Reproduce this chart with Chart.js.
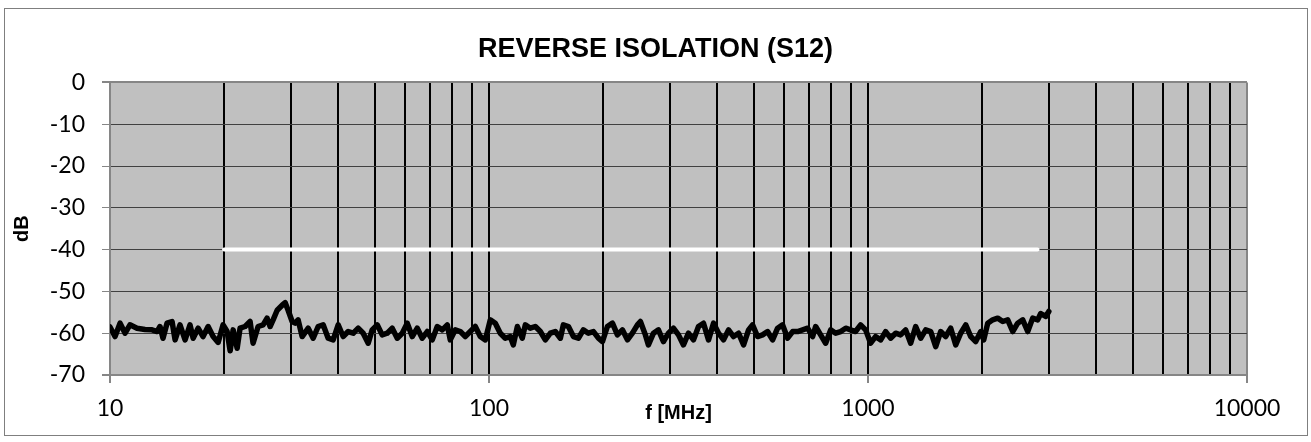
<!DOCTYPE html>
<html>
<head>
<meta charset="utf-8">
<script src="https://cdn.jsdelivr.net/npm/chart.js@4.4.0/dist/chart.umd.min.js"></script>
<style>
  html, body { margin: 0; padding: 0; background: #fff; }
  canvas { display: block; }
</style>
</head>
<body>
<canvas id="s12Chart" width="1311" height="442"></canvas>
<script>
// measured sweep, frequency in MHz
const freqMHz = [
  10, 10.31, 10.63, 10.96, 11.29, 11.78, 12.37, 12.91, 13.31, 13.55,
  13.80, 14.14, 14.58, 14.85, 15.30, 15.78, 16.26, 16.57, 17.08, 17.60,
  18.15, 18.71, 19.29, 19.88, 20.37, 20.75, 21.13, 21.65, 22.04, 22.72,
  23.42, 23.85, 24.59, 25.35, 25.97, 26.45, 26.94, 27.61, 28.46, 28.99,
  29.51, 30.24, 30.80, 31.36, 32.14, 33.34, 34.36, 35.42, 36.51, 37.64,
  38.80, 40.00, 41.23, 42.50, 43.82, 45.17, 46.56, 48.00, 49.18, 50.70,
  52.26, 53.88, 55.54, 57.27, 59.03, 60.85, 62.73, 64.67, 66.66, 68.72,
  70.84, 73.03, 75.28, 77.61, 79.04, 81.47, 83.99, 86.58, 89.25, 92.01,
  94.84, 97.77, 100.8, 103.9, 107.1, 110.4, 113.8, 115.9, 118.8, 122.4,
  124.7, 128.5, 132.5, 136.6, 140.8, 145.2, 149.6, 154.3, 157.1, 162.0,
  167.0, 172.1, 177.4, 182.9, 188.6, 194.4, 199.2, 205.3, 211.7, 218.2,
  224.9, 231.9, 239.0, 246.4, 250.9, 258.6, 263.4, 271.6, 279.9, 288.6,
  297.5, 306.7, 316.2, 325.9, 336.0, 346.4, 357.1, 368.1, 379.5, 391.2,
  403.3, 415.8, 428.6, 441.8, 455.5, 469.6, 484.1, 495.9, 511.2, 527.0,
  543.3, 560.1, 577.4, 595.2, 613.6, 632.6, 652.1, 672.3, 693.0, 714.4,
  727.5, 750.0, 773.2, 797.1, 821.7, 847.1, 873.3, 899.5, 927.2, 956.1,
  985.6, 1016, 1047, 1080, 1113, 1147, 1183, 1219, 1257, 1296,
  1336, 1377, 1420, 1464, 1509, 1555, 1603, 1653, 1704, 1756,
  1811, 1867, 1924, 1984, 2020, 2070, 2133, 2199, 2267, 2337,
  2409, 2483, 2560, 2639, 2720, 2804, 2856, 2944, 3000
];
const s12dB = [
  -58.5, -60.8, -57.6, -60, -58, -58.8, -59.1, -59.2, -59.6, -58.4,
  -61.2, -57.6, -57.2, -61.6, -58, -61.6, -58, -61.2, -58.8, -60.8,
  -58.4, -60.8, -62.2, -58, -59.6, -64.2, -59.2, -63.6, -58.8, -58.4,
  -57.2, -62.4, -58.4, -58, -56.4, -58.4, -56.8, -54.5, -53.3, -52.7,
  -54.5, -57.2, -57.6, -56.8, -60.8, -58.8, -61.2, -58.4, -58, -61.2,
  -61.6, -58, -60.8, -59.6, -60, -58.8, -60, -62.4, -59.2, -58,
  -60.4, -60, -58.8, -61.2, -60, -57.6, -60.8, -58.8, -61.2, -59.6,
  -61.6, -58.4, -59.2, -58, -61.6, -59.2, -59.6, -60.8, -59.6, -58.4,
  -60.8, -61.6, -56.8, -57.6, -60, -61.2, -60.8, -62.8, -58.4, -61.2,
  -58, -58.8, -58.4, -59.6, -61.6, -60, -59.6, -61.2, -58, -58.4,
  -60.8, -61.2, -59.2, -60, -59.6, -61.2, -62, -58.4, -57.6, -60.4,
  -59.2, -61.6, -60, -58, -57.2, -60.4, -62.8, -60, -59.2, -62,
  -60, -58.8, -60.4, -62.8, -60, -61.6, -58.4, -57.6, -61.6, -57.6,
  -60, -61.6, -59.2, -60.8, -60, -62.8, -59.2, -58, -60.8, -60.4,
  -59.6, -61.6, -58.8, -58, -61.2, -59.6, -59.6, -59.2, -58.8, -60.8,
  -58.4, -60.4, -62.4, -59.2, -60, -59.6, -58.8, -59.2, -59.6, -58,
  -59.2, -62.4, -60.8, -61.6, -59.6, -61.2, -60, -60.4, -59.2, -62.4,
  -58.4, -61.2, -59.2, -59.6, -63.2, -59.6, -60.8, -58.8, -62.8, -60,
  -58, -60.8, -62, -59.6, -61.6, -57.6, -56.8, -56.4, -57.2, -56.8,
  -59.6, -57.6, -56.8, -59.6, -56.4, -56.8, -55.3, -56, -54.8
];
// white limit line
const limitMHz = [20, 2800];
const limitdB = [-40, -40];

const yTicks = [0, -10, -20, -30, -40, -50, -60, -70];
const xTickLabels = [10, 100, 1000, 10000];
const gridSteps = [1, 2, 3, 4, 5, 6, 7, 8, 9];

const edgeGray = "#868686";

const frame = {
  id: "frame",
  afterLayout(chart) {
    // centre the title on the whole canvas, not on the padded box
    if (chart.titleBlock) {
      chart.titleBlock.left = 0;
      chart.titleBlock.right = chart.width;
    }
  },
  beforeDraw(chart) {
    const ctx = chart.ctx;
    const a = chart.chartArea;
    ctx.save();
    ctx.fillStyle = "#ffffff";
    ctx.fillRect(0, 0, chart.width, chart.height);
    ctx.strokeStyle = "#7f7f7f";
    ctx.lineWidth = 1;
    ctx.strokeRect(4.5, 8.5, 1303, 427);
    ctx.fillStyle = "#c0c0c0";
    ctx.fillRect(a.left, a.top, a.right - a.left, a.bottom - a.top);
    ctx.restore();
  }
};

function isDecade(v) {
  return xTickLabels.indexOf(Math.round(v)) >= 0;
}

document.addEventListener("DOMContentLoaded", function() {
  const ctx = document.getElementById("s12Chart").getContext("2d");
  new Chart(ctx, {
    type: "scatter",
    data: {
      datasets: [{
        data: limitMHz.map((f, i) => ({ x: f, y: limitdB[i] })),
        showLine: true,
        borderColor: "#ffffff",
        borderWidth: 4,
        pointRadius: 0,
        borderCapStyle: "round"
      }, {
        data: freqMHz.map((f, i) => ({ x: f, y: s12dB[i] })),
        showLine: true,
        borderColor: "#000000",
        borderWidth: 5.5,
        pointRadius: 0,
        tension: 0,
        borderJoinStyle: "round",
        borderCapStyle: "round"
      }]
    },
    plugins: [frame],
    options: {
      responsive: false,
      animation: false,
      devicePixelRatio: 1,
      layout: { padding: { left: 4, right: 64, top: 0, bottom: 12 } },
      plugins: {
        legend: { display: false },
        tooltip: { enabled: false },
        title: {
          display: true,
          text: "REVERSE ISOLATION (S12)",
          color: "#000",
          font: { family: "'Liberation Sans', Arial", size: 27, weight: "bold" },
          padding: { top: 33, bottom: 17 }
        }
      },
      scales: {
        x: {
          type: "logarithmic",
          min: 10,
          max: 10000,
          afterFit(scale) { scale.height = 55; },
          afterBuildTicks(scale) {
            const t = [];
            xTickLabels.forEach(d => {
              gridSteps.forEach(s => {
                if (d * s <= 10000) t.push({ value: d * s });
              });
            });
            scale.ticks = t;
          },
          border: { display: true, color: edgeGray, width: 2 },
          grid: {
            color: c => (c.tick && (Math.round(c.tick.value) === 10 || Math.round(c.tick.value) === 10000)) ? edgeGray : "#000000",
            lineWidth: 2,
            tickLength: 8,
            tickColor: c => (c.tick && isDecade(c.tick.value)) ? edgeGray : "rgba(0,0,0,0)"
          },
          ticks: {
            autoSkip: false,
            maxRotation: 0,
            padding: 12,
            color: "#000",
            font: { family: "Lato", size: 23 },
            callback: v => isDecade(v) ? String(Math.round(v)) : ""
          },
          title: {
            display: true,
            text: "f [MHz]",
            color: "#000",
            font: { family: "'Liberation Sans', Arial", size: 20, weight: "bold" },
            padding: { top: 0, bottom: 5 }
          }
        },
        y: {
          min: -70,
          max: 0,
          afterFit(scale) { scale.width = 106; },
          afterBuildTicks(scale) { scale.ticks = yTicks.map(v => ({ value: v })); },
          border: { display: true, color: edgeGray, width: 2 },
          grid: {
            color: c => (c.tick && (c.tick.value === 0 || c.tick.value === -70)) ? edgeGray : "#404040",
            lineWidth: c => (c.tick && (c.tick.value === 0 || c.tick.value === -70)) ? 2 : 1,
            tickLength: 8,
            tickColor: edgeGray
          },
          ticks: {
            padding: 17,
            color: "#000",
            font: { family: "Lato", size: 23 }
          },
          title: {
            display: true,
            text: "dB",
            color: "#000",
            font: { family: "'Liberation Sans', Arial", size: 20, weight: "bold" },
            padding: { top: 6, bottom: 0 }
          }
        }
      }
    }
  });
});
</script>
</body>
</html>
